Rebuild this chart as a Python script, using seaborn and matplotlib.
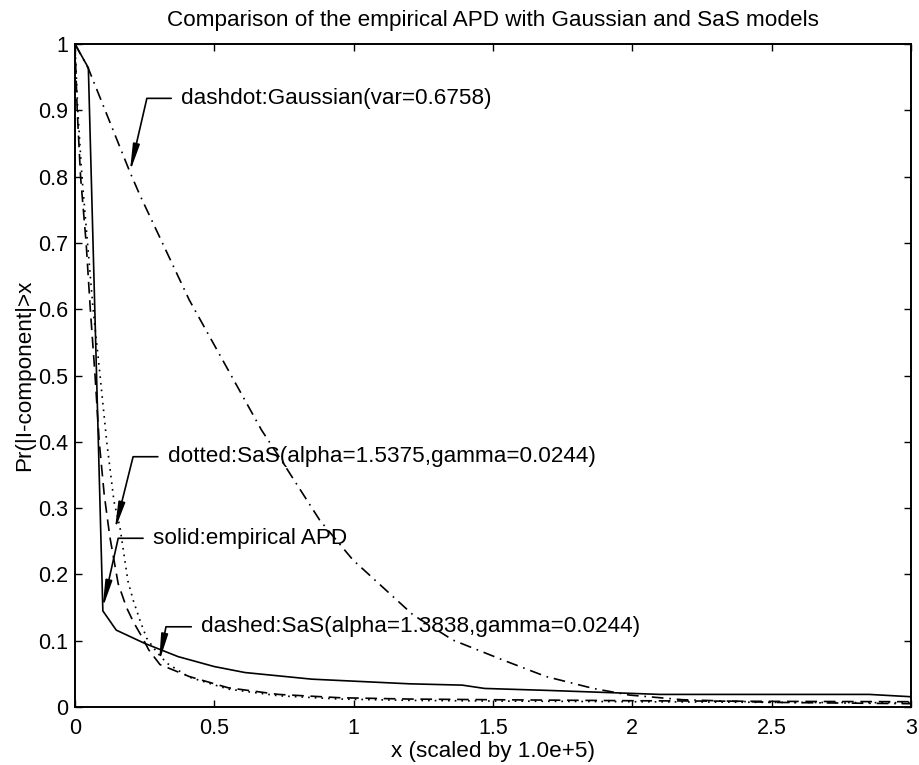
import numpy as np
import matplotlib
matplotlib.use("Agg")
import matplotlib.pyplot as plt
import seaborn as sns

# ---- data ----
emp_x = [0, 0.048, 0.1, 0.148, 0.25, 0.37, 0.5, 0.61, 0.85, 1.0, 1.2, 1.39, 1.47, 1.7, 1.9, 2.1, 2.5, 2.85, 3.0]
emp_y = [1, 0.964, 0.145, 0.116, 0.096, 0.076, 0.061, 0.052, 0.042, 0.039, 0.035, 0.033, 0.028, 0.025, 0.022, 0.019, 0.019, 0.019, 0.0155]

sas1_x = [0, 0.008, 0.02, 0.04, 0.055, 0.072, 0.087, 0.105, 0.125, 0.155, 0.185, 0.21, 0.24, 0.265, 0.305, 0.41, 0.55, 0.73, 0.95, 1.2, 1.5, 2.0, 2.5, 3.0]
sas1_y = [1, 0.9, 0.8, 0.7, 0.6, 0.5, 0.4, 0.32, 0.257, 0.186, 0.15, 0.128, 0.106, 0.086, 0.064, 0.046, 0.029, 0.019, 0.014, 0.012, 0.011, 0.0095, 0.0085, 0.008]

sas2_x = [0, 0.01, 0.025, 0.045, 0.065, 0.09, 0.114, 0.14, 0.161, 0.19, 0.209, 0.233, 0.257, 0.293, 0.33, 0.41, 0.55, 0.73, 0.95, 1.2, 1.5, 2.0, 2.5, 3.0]
sas2_y = [1, 0.9, 0.8, 0.7, 0.6, 0.5, 0.4, 0.31, 0.272, 0.19, 0.161, 0.131, 0.104, 0.083, 0.066, 0.045, 0.027, 0.017, 0.012, 0.010, 0.009, 0.008, 0.007, 0.0065]

gau_x = [0, 0.048, 0.197, 0.233, 0.41, 0.669, 0.747, 0.878, 0.997, 1.213, 1.356, 1.535, 1.69, 1.86, 1.99, 2.18, 2.5, 3.0]
gau_y = [1, 0.963, 0.807, 0.772, 0.614, 0.418, 0.368, 0.282, 0.222, 0.139, 0.101, 0.071, 0.046, 0.028, 0.018, 0.011, 0.007, 0.005]

x_ticks = [0, 0.5, 1, 1.5, 2, 2.5, 3]
x_tick_labels = ["0", "0.5", "1", "1.5", "2", "2.5", "3"]
y_ticks = [0, 0.1, 0.2, 0.3, 0.4, 0.5, 0.6, 0.7, 0.8, 0.9, 1]
y_tick_labels = ["0", "0.1", "0.2", "0.3", "0.4", "0.5", "0.6", "0.7", "0.8", "0.9", "1"]

title = "Comparison of the empirical APD with Gaussian and SaS models"
xlabel = "x (scaled by 1.0e+5)"
ylabel = "Pr(|I-component|>x"

labels = [
    "dashdot:Gaussian(var=0.6758)",
    "dotted:SaS(alpha=1.5375,gamma=0.0244)",
    "solid:empirical APD",
    "dashed:SaS(alpha=1.3838,gamma=0.0244)",
]

# ---- style ----
sns.set_style("ticks")
plt.rcParams["font.family"] = ["Liberation Sans", "DejaVu Sans"]
plt.rcParams["text.color"] = "black"
plt.rcParams["axes.labelcolor"] = "black"

fig = plt.figure(figsize=(9.2, 7.65), dpi=100)
ax = fig.add_axes([0.0815, 0.0758, 0.9087, 0.8667])

lw = 1.2
sns.lineplot(x=emp_x, y=emp_y, ax=ax, color="black", lw=lw, linestyle="-")
sns.lineplot(x=sas1_x, y=sas1_y, ax=ax, color="black", lw=lw, linestyle=(0, (7, 4)))
sns.lineplot(x=sas2_x, y=sas2_y, ax=ax, color="black", lw=lw, linestyle=(0, (1, 3)))
sns.lineplot(x=gau_x, y=gau_y, ax=ax, color="black", lw=lw, linestyle=(0, (7, 3.5, 1, 3.5)))

ax.set_xlim(0, 3)
ax.set_ylim(0, 1)
ax.set_xticks(x_ticks)
ax.set_xticklabels(x_tick_labels)
ax.set_yticks(y_ticks)
ax.set_yticklabels(y_tick_labels)
ax.tick_params(direction="in", length=5, width=1.0, top=True, right=True,
               labelsize=15.5, colors="black")
ax.tick_params(axis="x", pad=8)
ax.tick_params(axis="y", pad=5)
for s in ax.spines.values():
    s.set_visible(True)
    s.set_linewidth(1.4)
    s.set_color("black")

fs = 16.2
ax.set_title(title, fontsize=fs, pad=13, color="black")
ax.set_xlabel(xlabel, fontsize=fs, labelpad=1)
ax.set_ylabel(ylabel, fontsize=fs, labelpad=2)

# ---- annotations (tip, text position, leader angle) ----
ann = [
    ((0.197, 0.807), (0.382, 0.918), 77.0),
    ((0.143, 0.267), (0.334, 0.3775), 76.0),
    ((0.099, 0.149), (0.281, 0.2545), 77.4),
    ((0.302, 0.068), (0.454, 0.121), 79.0),
]
for text, (tip, pos, ang) in zip(labels, ann):
    ax.annotate(text, xy=tip, xytext=pos, xycoords="data", textcoords="data",
                ha="left", va="center", fontsize=fs, color="black",
                arrowprops=dict(arrowstyle="-|>,head_length=1.6,head_width=0.2",
                                connectionstyle=f"angle,angleA=0,angleB={ang},rad=0",
                                color="black", lw=1.2, shrinkA=5, shrinkB=0,
                                relpos=(0, 0.5), mutation_scale=10))

fig.savefig("out.png", dpi=100)
